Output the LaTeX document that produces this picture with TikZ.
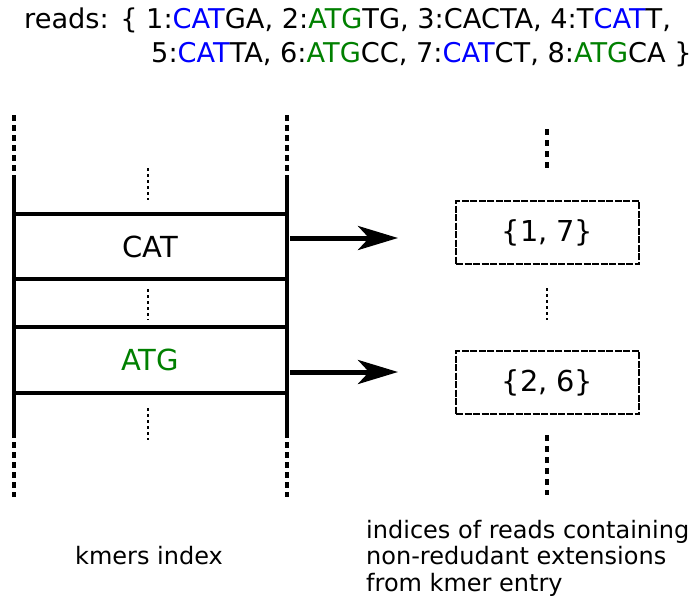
\documentclass[tikz,border=0pt]{standalone}
\usepackage{fontspec}
\setmainfont{DejaVu Sans}
\usetikzlibrary{arrows.meta}
\definecolor{kblue}{RGB}{0,0,255}
\definecolor{kgreen}{RGB}{0,128,0}
\newcommand{\kb}[1]{\textcolor{kblue}{#1}}
\newcommand{\kg}[1]{\textcolor{kgreen}{#1}}
\tikzset{
  rail/.style={line width=4.5pt},
  railgap/.style={line width=4.5pt, dash pattern=on 6pt off 4pt},
  slot/.style={line width=4.5pt},
  ellip/.style={line width=1.8pt, dash pattern=on 3pt off 3pt},
  bigellip/.style={line width=4.5pt, dash pattern=on 6pt off 5pt},
  setbox/.style={draw, line width=1.8pt, dash pattern=on 7pt off 1.5pt, minimum width=183pt, minimum height=63pt, inner sep=0pt, font=\fontsize{28.8}{32}\selectfont},
  kmer/.style={font=\fontsize{29}{34}\selectfont, inner sep=0pt},
  link/.style={line width=5pt, -{Stealth[length=40pt, width=24pt, inset=11pt]}},
  readsline/.style={anchor=base west, inner sep=0pt, font=\fontsize{27.2}{30}\selectfont},
  caption/.style={font=\fontsize{24}{26.5}\selectfont, align=left, inner sep=0pt}
}
\begin{document}
\begin{tikzpicture}[x=1pt, y=-1pt]
\useasboundingbox (0,0) rectangle (692,599);

% reads list
\node[readsline] (reads1) at (24,29)
  {reads: \{ 1:\kb{CAT}GA, 2:\kg{ATG}TG, 3:CACTA, 4:T\kb{CAT}T,};
\node[readsline] (reads2) at (151,63)
  {5:\kb{CAT}TA, 6:\kg{ATG}CC, 7:\kb{CAT}CT, 8:\kg{ATG}CA \}};

% kmer index rails
\coordinate (lt) at (14,115);
\coordinate (la) at (14,180);
\coordinate (lb) at (14,432);
\coordinate (le) at (14,497);
\coordinate (rt) at (287,115);
\coordinate (ra) at (287,180);
\coordinate (rb) at (287,432);
\coordinate (re) at (287,497);
\draw[railgap] (lt) -- (la);
\draw[rail] (la) -- (lb);
\draw[railgap] (lb) -- (le);
\draw[railgap] (rt) -- (ra);
\draw[rail] (ra) -- (rb);
\draw[railgap] (rb) -- (re);

% slot boundaries
\coordinate (h1l) at (14,214); \coordinate (h1r) at (287,214);
\coordinate (h2l) at (14,279); \coordinate (h2r) at (287,279);
\coordinate (h3l) at (14,327); \coordinate (h3r) at (287,327);
\coordinate (h4l) at (14,393); \coordinate (h4r) at (287,393);
\draw[slot] (h1l) -- (h1r);
\draw[slot] (h2l) -- (h2r);
\draw[slot] (h3l) -- (h3r);
\draw[slot] (h4l) -- (h4r);

% elided slots
\coordinate (e1a) at (148,168); \coordinate (e1b) at (148,200);
\coordinate (e2a) at (148,289); \coordinate (e2b) at (148,320);
\coordinate (e3a) at (148,408); \coordinate (e3b) at (148,440);
\draw[ellip] (e1a) -- (e1b);
\draw[ellip] (e2a) -- (e2b);
\draw[ellip] (e3a) -- (e3b);

% kmer entries
\node[kmer] (cat) at (150,247) {CAT};
\node[kmer, text=kgreen] (atg) at (150,360) {ATG};

% read sets
\node[setbox] (s17) at (547.5,232.5) {\{1, 7\}};
\node[setbox] (s26) at (547.5,382.5) {\{2, 6\}};

\coordinate (a1s) at (290,238); \coordinate (a1e) at (398,238);
\coordinate (a2s) at (290,372); \coordinate (a2e) at (398,372);
\draw[link] (a1s) -- (a1e);
\draw[link] (a2s) -- (a2e);

\coordinate (r1a) at (547,129); \coordinate (r1b) at (547,172);
\coordinate (r2a) at (547,288); \coordinate (r2b) at (547,320);
\coordinate (r3a) at (547,435); \coordinate (r3b) at (547,495);
\draw[bigellip] (r1a) -- (r1b);
\draw[ellip] (r2a) -- (r2b);
\draw[bigellip] (r3a) -- (r3b);

% captions
\node[caption, anchor=west] (capl) at (75,556) {kmers index};
\node[caption, anchor=north west] (capr) at (366,520)
  {indices of reads containing\\non-redudant extensions\\from kmer entry};
\end{tikzpicture}
\end{document}
